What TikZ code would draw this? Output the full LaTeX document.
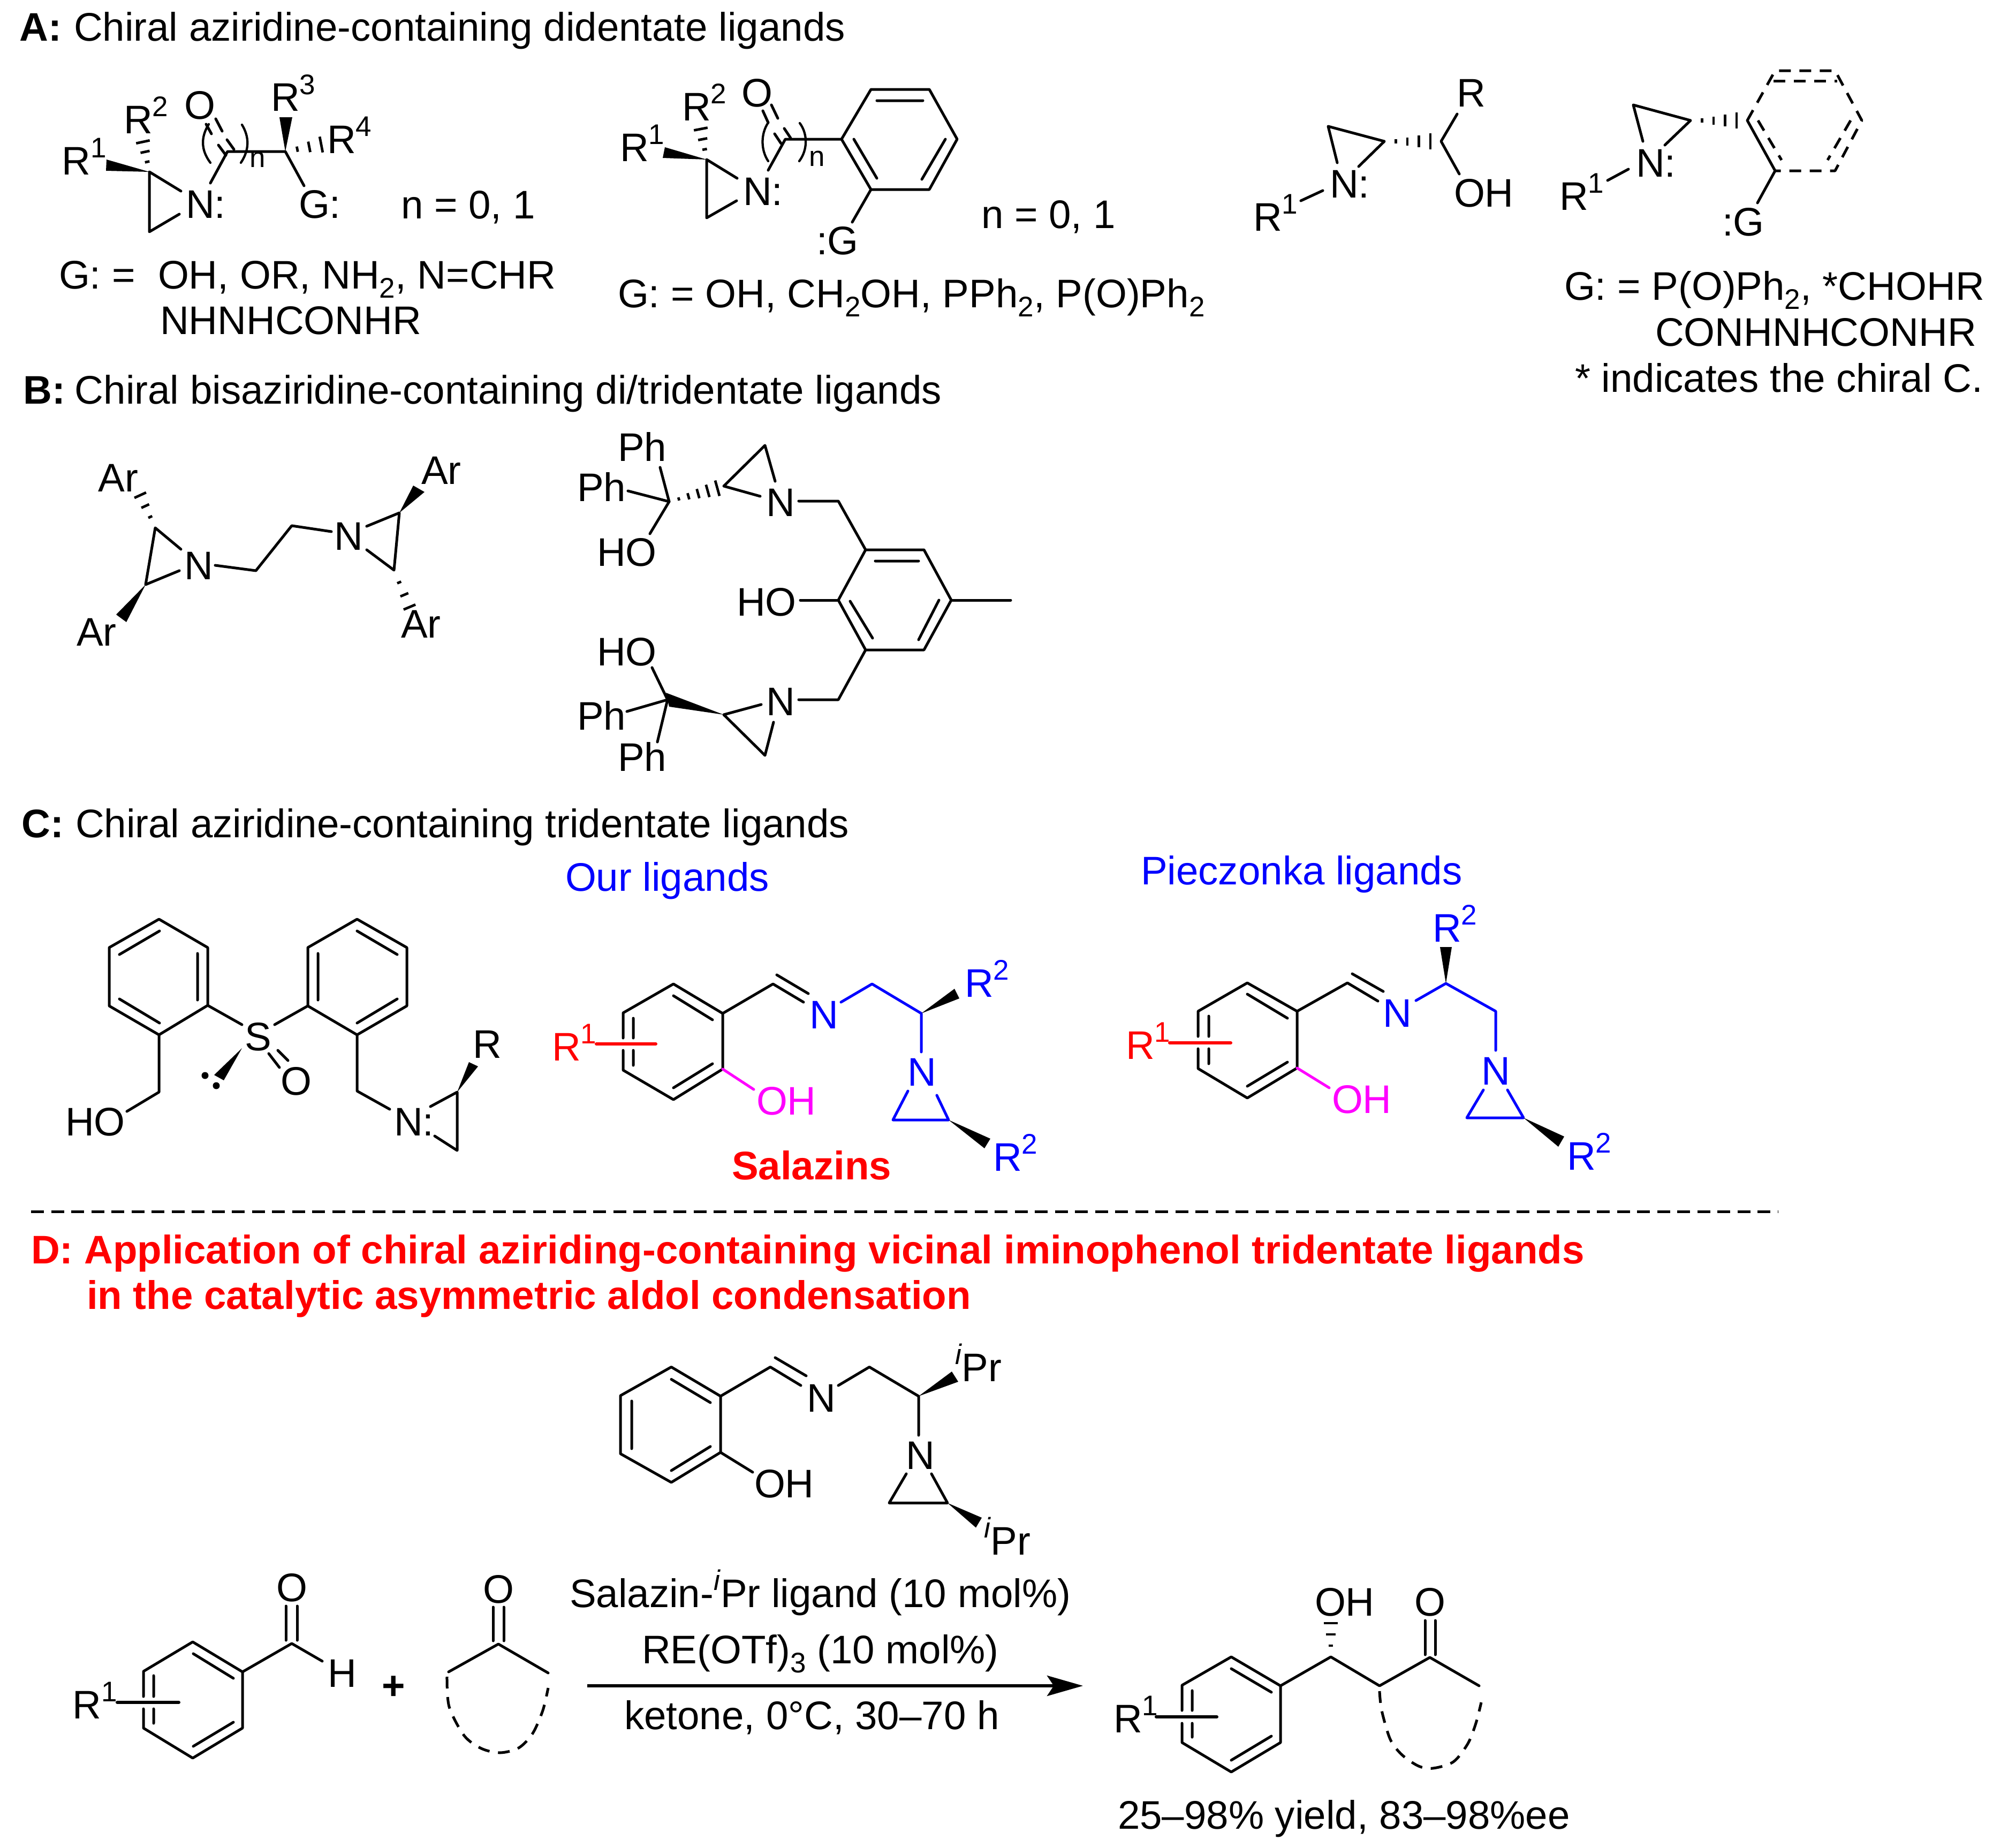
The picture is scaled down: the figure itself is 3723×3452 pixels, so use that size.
\documentclass[tikz,border=0pt]{standalone}
\usepackage{fontspec}
\setmainfont{Liberation Sans}
\usetikzlibrary{arrows.meta}
\definecolor{cblue}{RGB}{0,0,255}
\definecolor{cred}{RGB}{255,0,0}
\definecolor{cmag}{RGB}{255,0,255}
\newcommand\sps[1]{\raisebox{6.3pt}{\fontsize{10.6}{10.6}\selectfont #1}}
\newcommand\sbs[1]{\raisebox{-3.4pt}{\fontsize{10.6}{10.6}\selectfont #1}}
\tikzset{
  txt/.style={anchor=base west,inner sep=0pt,outer sep=0pt,xshift=-0.8pt,font=\fontsize{14.9}{17}\selectfont},
  btxt/.style={txt,font=\fontsize{14.9}{17}\selectfont\bfseries},
  subtxt/.style={txt,font=\fontsize{10.6}{10.6}\selectfont},
  bond/.style={line width=1pt,line cap=round,line join=round},
  dbond/.style={bond,line cap=butt,dash pattern=on 4.4pt off 3.2pt},
  hashl/.style={line width=0.95pt,line cap=butt},
  bl/.style={bond,draw=cblue},
  rd/.style={bond,draw=cred,line width=1.2pt},
  mg/.style={bond,draw=cmag},
}
\newcommand\hashw[6]{%
  \pgfmathsetmacro\hwdx{#3-#1}\pgfmathsetmacro\hwdy{#4-#2}\pgfmathsetmacro\hwlen{veclen(\hwdx,\hwdy)}%
  \foreach \hwi in {1,...,#6}{%
    \pgfmathsetmacro\hwT{\hwi/#6}%
    \pgfmathsetmacro\hwcx{#1+\hwT*\hwdx}\pgfmathsetmacro\hwcy{#2+\hwT*\hwdy}%
    \pgfmathsetmacro\hwnx{-\hwdy/\hwlen*\hwT*#5/2}\pgfmathsetmacro\hwny{\hwdx/\hwlen*\hwT*#5/2}%
    \draw[hashl] ({\hwcx-\hwnx},{\hwcy-\hwny}) -- ({\hwcx+\hwnx},{\hwcy+\hwny});
  }}
\begin{document}
\begin{tikzpicture}[x=0.2pt,y=-0.2pt]
\path[use as bounding box,fill=white] (0,0) rectangle (3723,3452);
% ---------- A
\node[btxt] (a0) at (41,77) {A:};
\node[txt] (a00) at (142,77) {Chiral aziridine-containing didentate ligands};
% structure A1
\fill (279,321) -- (199,298) -- (198,319) -- cycle;
\hashw{279}{321}{267}{265}{26}{3}
\draw[bond] (338,357) -- (279,321) -- (279,433) -- (335,400);
\draw[bond] (393,342) -- (425,283) -- (533,283) -- (568,347);
\draw[bond] (422,290) -- (408,271) (395,250) -- (385,232);
\draw[bond] (437,279) -- (424,261) (415,245) -- (403,222);
\draw[bond,line width=.85pt] (393,304) .. controls (375,280) and (375,256) .. (390,232);
\draw[bond,line width=.85pt] (450,304) .. controls (466,280) and (466,256) .. (452,233);
\fill (533,283) -- (522,219) -- (546,219) -- cycle;
\hashw{533}{283}{600}{270}{30}{3}
\node[txt] (a1) at (120,326) {R\sps{1}};
\node[txt] (a2) at (235,249) {R\sps{2}};
\node[txt] (a3) at (348,222) {O};
\node[txt] (a4) at (510,208) {R\sps{3}};
\node[txt] (a5) at (615,286) {R\sps{4}};
\node[txt] (a6) at (351,407) {N:};
\node[txt] (a7) at (562,407) {G:};
\node[subtxt] (a8) at (470,312) {n};
\node[txt] (a9) at (753,408) {n = 0, 1};
\node[txt] (a10) at (114,539) {G: =};
\node[txt] (a11) at (299,539) {OH, OR, NH\sbs{2}, N=CHR};
\node[txt] (a12) at (303,624) {NHNHCONHR};
% structure A2
\fill (1320,298) -- (1242,275) -- (1238,295) -- cycle;
\hashw{1320}{298}{1309}{241}{26}{3}
\draw[bond] (1377,333) -- (1320,298) -- (1320,407) -- (1376,375);
\draw[bond] (1435,318) -- (1467,260) -- (1572,260);
\draw[bond] (1459,268) -- (1447,250) (1435,229) -- (1425,207);
\draw[bond] (1477,258) -- (1465,240) (1453,221) -- (1441,196);
\draw[bond,line width=.85pt] (1435,301) .. controls (1421,280) and (1421,250) .. (1435,229);
\draw[bond,line width=.85pt] (1493,301) .. controls (1509,280) and (1509,250) .. (1494,230);
\draw[bond] (1572,260) -- (1627,167) -- (1736,167) -- (1788,260) -- (1736,354) -- (1627,354) -- cycle;
\draw[bond] (1638,188) -- (1724,188) (1595,260) -- (1638,333) (1766,260) -- (1722,335);
\draw[bond] (1627,354) -- (1592,415);
\node[txt] (b1) at (1162,301) {R\sps{1}};
\node[txt] (b2) at (1278,225) {R\sps{2}};
\node[txt] (b3) at (1389,199) {O};
\node[txt] (b4) at (1392,383) {N:};
\node[subtxt] (b5) at (1515,310) {n};
\node[txt] (b6) at (1529,475) {:G};
\node[txt] (b7) at (1837,426) {n = 0, 1};
\node[txt] (b8) at (1158,574) {G: = OH, CH\sbs{2}OH, PPh\sbs{2}, P(O)Ph\sbs{2}};
% structure A3
\hashw{2586}{264}{2672}{264}{30}{4}
\draw[bond] (2538,311) -- (2586,264) -- (2481,236) -- (2498,304);
\draw[bond] (2722,213) -- (2692,264) -- (2726,325);
\draw[bond] (2471,356) -- (2430,375);
\node[txt] (c1) at (2725,200) {R};
\node[txt] (c2) at (2720,386) {OH};
\node[txt] (c3) at (2488,369) {N:};
\node[txt] (c4) at (2345,431) {R\sps{1}};
% structure A4
\hashw{3158}{225}{3244}{225}{30}{4}
\draw[bond] (3110,271) -- (3158,225) -- (3051,196) -- (3069,264);
\draw[bond] (3042,316) -- (3003,337);
\draw[bond] (3264,225) -- (3316,319);
\draw[dbond] (3264,225) -- (3316,132) -- (3428,132) -- (3478,225) -- (3428,319) -- (3316,319);
\draw[dbond] (3313,151) -- (3432,151);
\draw[dbond] (3284,225) -- (3328,299);
\draw[dbond] (3457,225) -- (3414,299);
\draw[bond] (3316,319) -- (3283,379);
\node[txt] (d1) at (3060,330) {N:};
\node[txt] (d2) at (2917,392) {R\sps{1}};
\node[txt] (d3) at (3221,440) {:G};
\node[txt] (d4) at (2926,560) {G: = P(O)Ph\sbs{2}, *CHOHR};
\node[txt] (d5) at (3096,646) {CONHNHCONHR};
\node[txt] (d6) at (2946,732) {* indicates the chiral C.};
% ---------- B
\node[btxt] (e0) at (48,754) {B:};
\node[txt] (e00) at (144,754) {Chiral bisaziridine-containing di/tridentate ligands};
\hashw{290}{986}{262}{925}{24}{3}
\draw[bond] (338,1026) -- (290,986) -- (272,1092) -- (335,1066);
\fill (272,1092) -- (217,1148) -- (236,1162) -- cycle;
\draw[bond] (402,1056) -- (478,1066) -- (545,982) -- (619,993);
\draw[bond] (685,983) -- (746,958) -- (736,1065) -- (685,1027);
\fill (746,958) -- (772,907) -- (793,919) -- cycle;
\hashw{736}{1065}{765}{1134}{24}{3}
\node[txt] (e1) at (188,918) {Ar};
\node[txt] (e2) at (147,1206) {Ar};
\node[txt] (e3) at (348,1082) {N};
\node[txt] (e4) at (628,1027) {N};
\node[txt] (e5) at (791,904) {Ar};
\node[txt] (e6) at (753,1191) {Ar};
% B right
\draw[bond] (1233,873) -- (1250,937) -- (1214,997);
\draw[bond] (1173,917) -- (1250,937);
\hashw{1250}{937}{1340}{912}{30}{5}
\draw[bond] (1420,927) -- (1352,908) -- (1429,832) -- (1448,899);
\draw[bond] (1492,936) -- (1566,936) -- (1617,1027);
\draw[bond] (1617,1027) -- (1726,1027) -- (1777,1121) -- (1726,1214) -- (1617,1214) -- (1566,1121) -- cycle;
\draw[bond] (1635,1048) -- (1716,1048) (1588,1123) -- (1630,1192) (1754,1121) -- (1716,1195);
\draw[bond] (1777,1121) -- (1888,1121);
\draw[bond] (1566,1121) -- (1495,1121);
\draw[bond] (1617,1214) -- (1566,1307) -- (1492,1307);
\draw[bond] (1422,1316) -- (1352,1335) -- (1429,1411) -- (1445,1349);
\fill (1352,1335) -- (1244,1294) -- (1250,1320) -- cycle;
\draw[bond] (1218,1247) -- (1247,1307) -- (1228,1386);
\draw[bond] (1247,1307) -- (1171,1329);
\node[txt] (f1) at (1158,861) {Ph};
\node[txt] (f2) at (1082,936) {Ph};
\node[txt] (f3) at (1119,1057) {HO};
\node[txt] (f4) at (1435,964) {N};
\node[txt] (f5) at (1380,1150) {HO};
\node[txt] (f6) at (1119,1243) {HO};
\node[txt] (f7) at (1082,1363) {Ph};
\node[txt] (f8) at (1158,1440) {Ph};
\node[txt] (f9) at (1435,1336) {N};
% ---------- C
\node[btxt] (g0) at (45,1564) {C:};
\node[txt] (g00) at (145,1564) {Chiral aziridine-containing tridentate ligands};
\node[txt,text=cblue] (g01) at (1060,1664) {Our ligands};
\node[txt,text=cblue] (g02) at (2135,1652) {Pieczonka ligands};
\draw[bond] (297,1717) -- (388,1770) -- (388,1878) -- (297,1933) -- (204,1879) -- (204,1770) -- cycle;
\draw[bond] (298,1739) -- (223,1783) (369,1781) -- (369,1868) (223,1866) -- (298,1911);
\draw[bond] (388,1878) -- (452,1914) (575,1879) -- (513,1914);
\draw[bond] (667,1717) -- (760,1770) -- (760,1879) -- (667,1933) -- (575,1879) -- (575,1770) -- cycle;
\draw[bond] (667,1739) -- (742,1783) (594,1781) -- (594,1868) (742,1866) -- (667,1911);
\draw[bond] (297,1933) -- (297,2040) -- (237,2076);
\draw[bond] (667,1933) -- (667,2038) -- (728,2072);
\draw[bond] (804,2067) -- (854,2040) -- (854,2149) -- (812,2122);
\fill (854,2040) -- (876,1984) -- (893,1992) -- cycle;
\fill (452,1958) -- (400,2008) -- (418,2018) -- cycle;
\fill (383,2009) circle (6.5);
\fill (404,2028) circle (6.5);
\draw[bond] (502,1968) -- (522,1994) (519,1962) -- (538,1981);
\node[txt] (g1) at (461,1962) {S};
\node[txt] (g2) at (528,2045) {O};
\node[txt] (g3) at (126,2121) {HO};
\node[txt] (g4) at (740,2121) {N:};
\node[txt] (g5) at (887,1976) {R};
% Salazin
\draw[bond] (1164,1939) -- (1164,1892) -- (1258,1838) -- (1350,1893) -- (1350,1997) -- (1258,2054) -- (1164,1999) -- (1164,1962);
\draw[bond] (1258,1860) -- (1331,1905) (1183,1902) -- (1183,1939) (1183,1962) -- (1183,1990) (1331,1987) -- (1258,2032);
\draw[rd] (1114,1950) -- (1225,1950);
\draw[bond] (1350,1893) -- (1444,1838) -- (1501,1872) (1451,1821) -- (1510,1856);
\draw[bl] (1571,1872) -- (1629,1838) -- (1721,1893) -- (1721,1965);
\draw[bl] (1696,2038) -- (1668,2092) -- (1772,2092) -- (1750,2046);
\fill (1721,1893) -- (1783,1847) -- (1792,1865) -- cycle;
\fill (1772,2092) -- (1850,2127) -- (1839,2145) -- cycle;
\draw[mg] (1350,1997) -- (1408,2035);
\node[txt,text=cred] (h1) at (1035,1981) {R\sps{1}};
\node[txt,text=cblue] (h2) at (1516,1921) {N};
\node[txt,text=cblue] (h3) at (1699,2028) {N};
\node[txt,text=cblue] (h4) at (1806,1862) {R\sps{2}};
\node[txt,text=cblue] (h5) at (1859,2187) {R\sps{2}};
\node[txt,text=cmag] (h6) at (1417,2082) {OH};
\node[btxt,text=cred] (h7) at (1371,2203) {Salazins};
% Pieczonka
\draw[bond] (2238,1936) -- (2238,1889) -- (2330,1836) -- (2423,1889) -- (2423,1995) -- (2330,2051) -- (2238,1996) -- (2238,1959);
\draw[bond] (2330,1857) -- (2405,1902) (2258,1898) -- (2258,1936) (2258,1959) -- (2258,1987) (2405,1984) -- (2330,2029);
\draw[rd] (2185,1948) -- (2299,1948);
\draw[bond] (2423,1889) -- (2517,1836) -- (2574,1870) (2526,1819) -- (2584,1852);
\draw[bl] (2645,1869) -- (2701,1837) -- (2794,1889) -- (2794,1962);
\draw[bl] (2771,2036) -- (2740,2088) -- (2846,2088) -- (2816,2036);
\fill (2701,1837) -- (2690,1769) -- (2712,1769) -- cycle;
\fill (2846,2088) -- (2922,2123) -- (2911,2142) -- cycle;
\draw[mg] (2423,1995) -- (2483,2032);
\node[txt,text=cred] (i1) at (2107,1978) {R\sps{1}};
\node[txt,text=cblue] (i2) at (2587,1918) {N};
\node[txt,text=cblue] (i3) at (2771,2026) {N};
\node[txt,text=cblue] (i4) at (2680,1759) {R\sps{2}};
\node[txt,text=cblue] (i5) at (2931,2185) {R\sps{2}};
\node[txt,text=cmag] (i6) at (2492,2079) {OH};
% separator
\coordinate (sepa) at (58,2263);
\coordinate (sepb) at (3321,2263);
\draw[line width=1pt,dash pattern=on 4.8pt off 2.7pt] (sepa) -- (sepb);
% ---------- D
\node[btxt,text=cred] (j1) at (62,2360) {D: Application of chiral aziriding-containing vicinal iminophenol tridentate ligands};
\node[btxt,text=cred] (j2) at (166,2445) {in the catalytic asymmetric aldol condensation};
% ligand
\draw[bond] (1254,2553.5) -- (1346,2608) -- (1346,2713) -- (1254,2769) -- (1159,2715.5) -- (1159,2607) -- cycle;
\draw[bond] (1254,2576.5) -- (1327,2620) (1180,2617) -- (1180,2706) (1327,2702) -- (1254,2747);
\draw[bond] (1346,2608) -- (1439,2553.5) -- (1496,2588) (1448,2536) -- (1506,2570);
\draw[bond] (1566,2588) -- (1624,2553.5) -- (1716,2608) -- (1716,2681);
\draw[bond] (1693,2753) -- (1661,2807.5) -- (1770,2807.5) -- (1740,2753);
\fill (1716,2608) -- (1778,2562) -- (1790,2581) -- cycle;
\fill (1770,2807.5) -- (1834,2835) -- (1823,2853.5) -- cycle;
\draw[bond] (1346,2713) -- (1406,2750);
\node[txt] (k1) at (1511,2637) {N};
\node[txt] (k2) at (1696,2744) {N};
\node[txt] (k3) at (1413,2797) {OH};
\node[txt] (k4) at (1788,2580) {\sps{\textit{i}}Pr};
\node[txt] (k5) at (1842,2904) {\sps{\textit{i}}Pr};
% reagents
\node[txt] (m1) at (1068,3002) {Salazin-\sps{\textit{i}}Pr ligand (10 mol\%)};
\node[txt] (m2) at (1203,3107) {RE(OTf)\sbs{3} (10 mol\%)};
\node[txt] (m3) at (1170,3230) {ketone, 0°C, 30–70 h};
\coordinate (rxa) at (1097,3149);
\coordinate (rxb) at (2023,3149);
\draw[line width=1.1pt,-{Stealth[length=13.4pt,width=7.6pt,inset=2.5pt]}] (rxa) -- (rxb);
% benzaldehyde
\draw[bond] (268,3169) -- (268,3122) -- (360,3067) -- (453,3123) -- (453,3228) -- (360,3284) -- (268,3228) -- (268,3192);
\draw[bond] (361,3089) -- (436,3135) (287,3130) -- (287,3169) (287,3192) -- (287,3219) (436,3217) -- (361,3262);
\draw[bond,line width=1.2pt] (219,3180) -- (334,3180);
\draw[bond] (453,3123) -- (545,3070) -- (602,3103);
\draw[bond] (534,3064) -- (534,3000) (555,3064) -- (555,3000);
\node[txt] (n1) at (140,3210) {R\sps{1}};
\node[txt] (n2) at (520,2991) {O};
\node[txt] (n3) at (616,3151) {H};
\node[anchor=center,inner sep=0pt,font=\fontsize{14.9}{17}\selectfont\bfseries] (n4) at (735,3153) {+};
% ketone
\draw[bond] (838,3123) -- (931,3071) -- (1024,3125);
\draw[bond] (921,3065) -- (921,3002) (941,3065) -- (941,3002);
\draw[dbond] plot[smooth] coordinates {(835,3132) (839,3188) (867,3242) (899,3266) (934,3274) (969,3265) (995,3238) (1014,3195) (1024,3153)};
\node[txt] (n5) at (906,2994) {O};
% product
\draw[bond] (2208,3195) -- (2208,3148) -- (2300,3095) -- (2392,3149) -- (2392,3255) -- (2300,3310) -- (2208,3255) -- (2208,3219);
\draw[bond] (2300,3117) -- (2375,3161) (2227,3158) -- (2227,3195) (2227,3219) -- (2227,3245) (2375,3243) -- (2300,3288);
\draw[bond,line width=1.2pt] (2160,3207) -- (2273,3207);
\draw[bond] (2392,3149) -- (2486,3095) -- (2577,3149) -- (2671,3096) -- (2763,3149);
\hashw{2486}{3095}{2486}{3032}{26}{3}
\draw[bond] (2662,3091) -- (2662,3027) (2681,3091) -- (2681,3027);
\draw[dbond] plot[smooth] coordinates {(2577,3159) (2581,3195) (2597,3249) (2619,3278) (2650,3299) (2677,3303) (2715,3291) (2742,3257) (2757,3219) (2767,3180)};
\node[txt] (o1) at (2084,3236) {R\sps{1}};
\node[txt] (o2) at (2460,3018) {OH};
\node[txt] (o3) at (2646,3018) {O};
\node[txt] (o4) at (2092,3416) {25–98\% yield, 83–98\%ee};
\end{tikzpicture}
\end{document}
